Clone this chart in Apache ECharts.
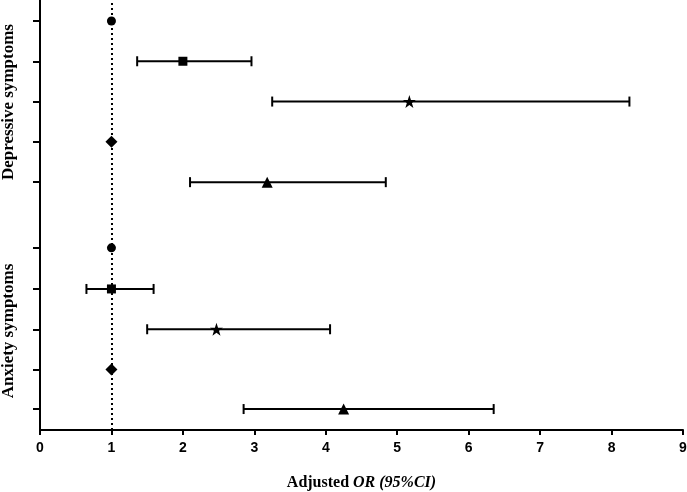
<!DOCTYPE html>
<html>
<head>
<meta charset="utf-8">
<title>Adjusted OR forest plot</title>
<script src="https://cdn.jsdelivr.net/npm/echarts@6/dist/echarts.min.js"></script>
<style>
	html, body { margin: 0; padding: 0; background: #fff; }
	#main { width: 687px; height: 492px; }
</style>
</head>
<body>
<div id="main"></div>
<script>
// rows, top to bottom: depressive symptoms (5), then anxiety symptoms (5)
var rowY = [10.15, 9.15, 8.15, 7.15, 6.15, 4.52, 3.5, 2.5, 1.5, 0.52];
var estimate = [1, 2.00, 5.17, 1, 3.18, 1, 1, 2.47, 1, 4.25];
var lower = [null, 1.36, 3.25, null, 2.10, null, 0.65, 1.50, null, 2.85];
var upper = [null, 2.96, 8.25, null, 4.84, null, 1.59, 4.06, null, 6.35];
var markerKind = ['circle', 'rect', 'star', 'diamond', 'triangle',
                  'circle', 'rect', 'star', 'diamond', 'triangle'];
var groupNames = ['Depressive symptoms', 'Anxiety symptoms'];
var refLine = 1;

(function(){

	init();

	function init(){
		initForest();
	}

	function initForest(){
		var myChart = echarts.init(document.getElementById('main'));

		var starPath = 'path://M50,0 L61.8,35.4 L99,35.4 L69,57.3 L80.3,92.7 L50,70.8 L19.7,92.7 L31,57.3 L1,35.4 L38.2,35.4 Z';
		var symbolOf = {
			circle: ['circle', 9],
			rect: ['rect', 9],
			star: [starPath, 13],
			diamond: ['diamond', 12],
			triangle: ['triangle', 11]
		};

		var points = [];
		var bars = [];
		for (var i = 0; i < rowY.length; i++) {
			var s = symbolOf[markerKind[i]];
			points.push({ value: [estimate[i], rowY[i]], symbol: s[0], symbolSize: s[1] });
			if (lower[i] != null) {
				bars.push([lower[i], upper[i], rowY[i]]);
			}
		}

		var option = {
			animation: false,
			grid: { left: 40, right: 4, top: 0, bottom: 62, outerBoundsMode: 'none' },
			xAxis: {
				type: 'value',
				min: 0,
				max: 9,
				interval: 1,
				axisLine: { lineStyle: { color: '#000', width: 2 } },
				axisTick: { length: 5, lineStyle: { color: '#000', width: 2 } },
				axisLabel: {
					margin: 11,
					color: '#000',
					fontFamily: 'Liberation Sans',
					fontWeight: 'bold',
					fontSize: 14
				},
				splitLine: { show: false },
				name: '{a|Adjusted }{b|OR (95%CI)}',
				nameLocation: 'middle',
				nameGap: 45,
				nameTextStyle: {
					rich: {
						a: { fontFamily: 'Liberation Serif', fontWeight: 'bold', fontSize: 16, color: '#000' },
						b: { fontFamily: 'Liberation Serif', fontWeight: 'bold', fontStyle: 'italic', fontSize: 16, color: '#000' }
					}
				}
			},
			yAxis: {
				type: 'value',
				min: 0,
				max: 10.67,
				axisLine: { show: true, lineStyle: { color: '#000', width: 2 } },
				axisTick: { show: true, length: 7, customValues: rowY, lineStyle: { color: '#000', width: 2 } },
				axisLabel: { show: false },
				splitLine: { show: false }
			},
			graphic: [
				{
					type: 'text', x: 9, y: 102, rotation: Math.PI / 2,
					style: {
						text: groupNames[0], align: 'center', verticalAlign: 'middle',
						font: 'bold 17px "Liberation Serif"', fill: '#000'
					}
				},
				{
					type: 'text', x: 9, y: 331, rotation: Math.PI / 2,
					style: {
						text: groupNames[1], align: 'center', verticalAlign: 'middle',
						font: 'bold 17px "Liberation Serif"', fill: '#000'
					}
				}
			],
			series: [
				{
					//置信区间横线 + 两端短竖线
					type: 'custom',
					data: bars,
					renderItem: function(params, api){
						var y = api.value(2);
						var a = api.coord([api.value(0), y]);
						var b = api.coord([api.value(1), y]);
						var h = 5;
						var st = { stroke: '#000', lineWidth: 2 };
						return {
							type: 'group',
							children: [
								{ type: 'line', shape: { x1: a[0], y1: a[1], x2: b[0], y2: b[1] }, style: st },
								{ type: 'line', shape: { x1: a[0], y1: a[1] - h, x2: a[0], y2: a[1] + h }, style: st },
								{ type: 'line', shape: { x1: b[0], y1: b[1] - h, x2: b[0], y2: b[1] + h }, style: st }
							]
						};
					},
					z: 2
				},
				{
					type: 'scatter',
					data: points,
					itemStyle: { color: '#000', opacity: 1 },
					z: 3,
					markLine: {
						silent: true,
						symbol: 'none',
						label: { show: false },
						lineStyle: { color: '#000', width: 2, type: [2, 3] },
						data: [{ xAxis: refLine }]
					}
				}
			]
		};
		myChart.setOption(option);
	}

})();
</script>
</body>
</html>
